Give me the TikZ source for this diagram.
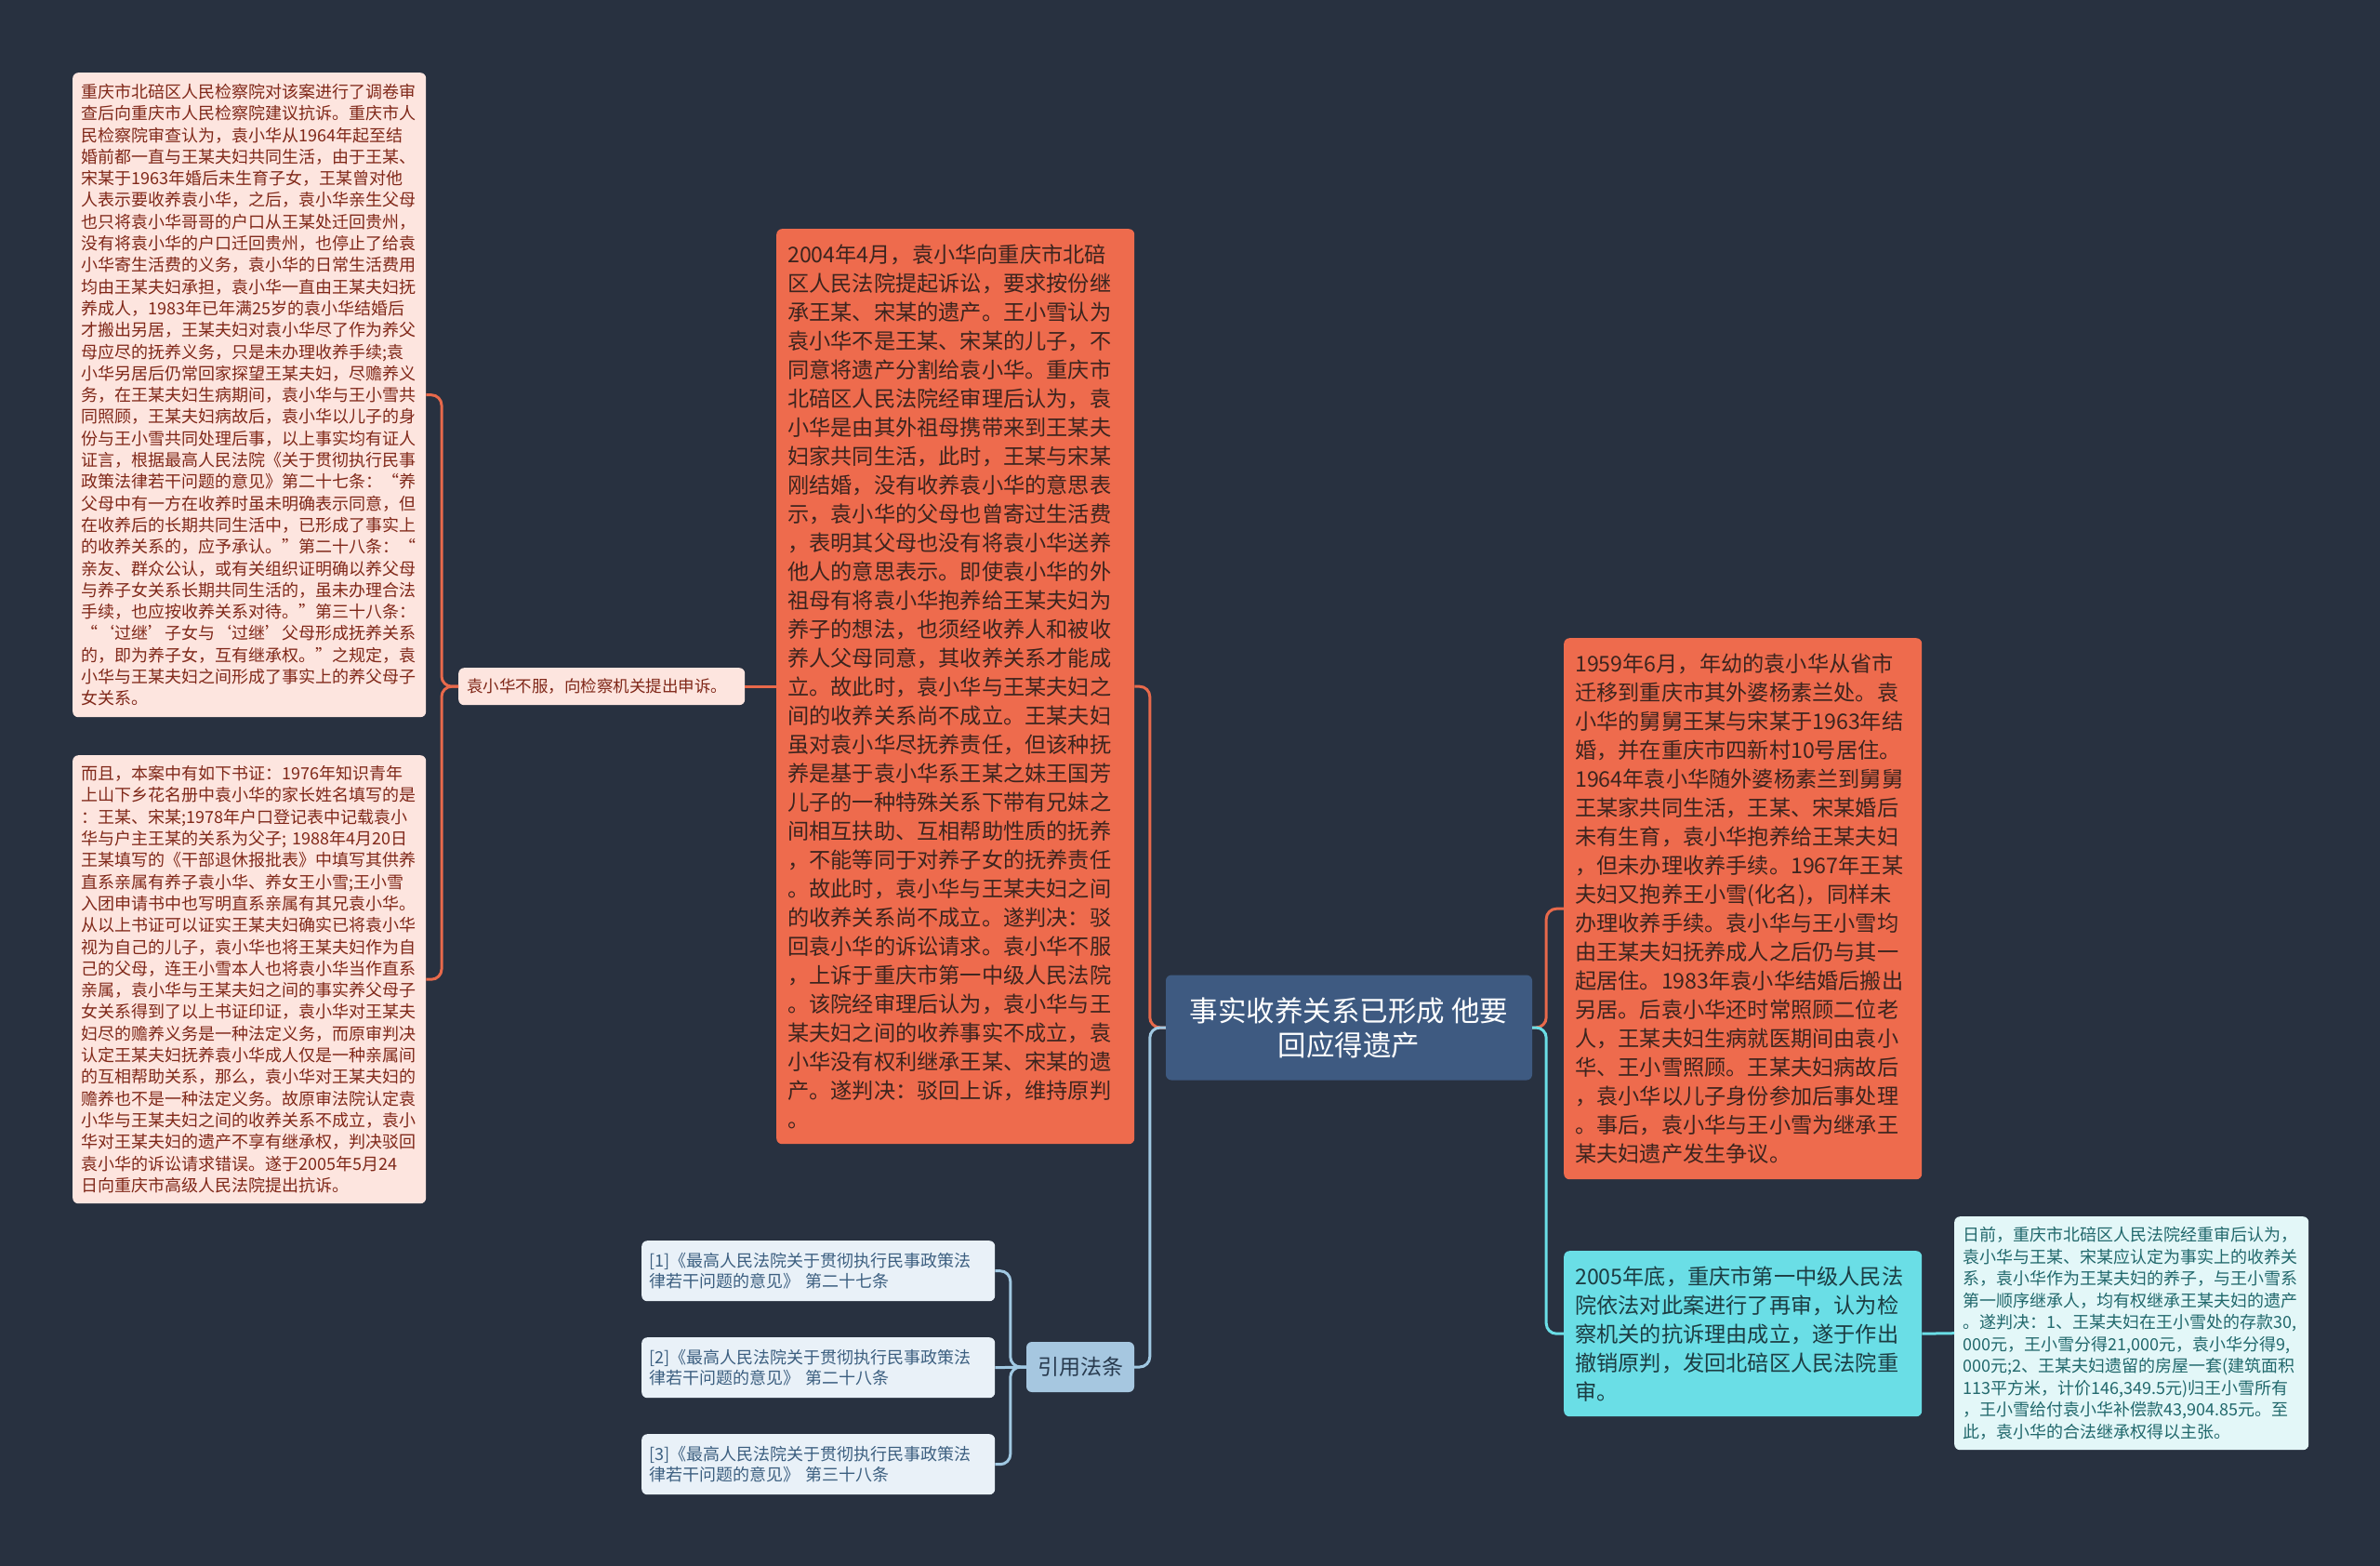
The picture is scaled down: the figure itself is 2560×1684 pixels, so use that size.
\documentclass[tikz,border=0pt]{standalone}
\usepackage{fontspec}
\setmainfont{Noto Sans CJK SC}
\definecolor{bgdark}{RGB}{40,49,64}
\definecolor{hubfill}{RGB}{62,90,129}
\definecolor{orangefill}{RGB}{238,107,77}
\definecolor{orangetext}{RGB}{60,36,30}
\definecolor{pinkfill}{RGB}{253,229,223}
\definecolor{pinktext}{RGB}{128,40,25}
\definecolor{lawfill}{RGB}{166,199,224}
\definecolor{lawtext}{RGB}{40,58,78}
\definecolor{citefill}{RGB}{233,241,248}
\definecolor{citetext}{RGB}{60,95,128}
\definecolor{cyanfill}{RGB}{106,222,230}
\definecolor{cyantext}{RGB}{28,60,66}
\definecolor{palefill}{RGB}{227,247,248}
\definecolor{paletext}{RGB}{33,104,108}
\definecolor{orangeline}{RGB}{232,105,75}
\definecolor{blueline}{RGB}{160,200,226}
\begin{document}
\begin{tikzpicture}[x=1pt,y=-1pt,
  note/.style={anchor=north west,rounded corners=6pt,align=left,inner ysep=0pt},
  pinknote/.style={note,fill=pinkfill,text=pinktext,inner xsep=9pt,text width=362pt,font=\fontsize{18}{23.3}\selectfont},
  orangenote/.style={note,fill=orangefill,text=orangetext,inner xsep=12pt,text width=361pt,font=\fontsize{23.2}{31}\selectfont},
  citenote/.style={note,fill=citefill,text=citetext,inner xsep=8pt,text width=364pt,minimum height=65pt,font=\fontsize{18}{22.5}\selectfont},
  link/.style={line width=3pt,rounded corners=11pt}]
\fill[bgdark] (0,0) rectangle (2560,1684);
\node[rounded corners=6pt,fill=hubfill,text=white,align=center,minimum width=394pt,minimum height=113pt,font=\fontsize{30.5}{37}\selectfont] (hub) at (1451,1105) {事实收养关系已形成 他要\\回应得遗产};
\node[orangenote,minimum height=984pt] (trial) at (835,246) {2004年4月，袁小华向重庆市北碚\\区人民法院提起诉讼，要求按份继\\承王某、宋某的遗产。王小雪认为\\袁小华不是王某、宋某的儿子，不\\同意将遗产分割给袁小华。重庆市\\北碚区人民法院经审理后认为，袁\\小华是由其外祖母携带来到王某夫\\妇家共同生活，此时，王某与宋某\\刚结婚，没有收养袁小华的意思表\\示，袁小华的父母也曾寄过生活费\\，表明其父母也没有将袁小华送养\\他人的意思表示。即使袁小华的外\\祖母有将袁小华抱养给王某夫妇为\\养子的想法，也须经收养人和被收\\养人父母同意，其收养关系才能成\\立。故此时，袁小华与王某夫妇之\\间的收养关系尚不成立。王某夫妇\\虽对袁小华尽抚养责任，但该种抚\\养是基于袁小华系王某之妹王国芳\\儿子的一种特殊关系下带有兄妹之\\间相互扶助、互相帮助性质的抚养\\，不能等同于对养子女的抚养责任\\。故此时，袁小华与王某夫妇之间\\的收养关系尚不成立。遂判决：驳\\回袁小华的诉讼请求。袁小华不服\\，上诉于重庆市第一中级人民法院\\。该院经审理后认为，袁小华与王\\某夫妇之间的收养事实不成立，袁\\小华没有权利继承王某、宋某的遗\\产。遂判决：驳回上诉，维持原判\\。};
\node[note,fill=pinkfill,text=pinktext,inner xsep=9pt,text width=290pt,minimum height=40pt,font=\fontsize{17.5}{22}\selectfont] (complain) at (493,718) {袁小华不服，向检察机关提出申诉。};
\node[pinknote,minimum height=693pt] (protest) at (78,78) {重庆市北碚区人民检察院对该案进行了调卷审\\查后向重庆市人民检察院建议抗诉。重庆市人\\民检察院审查认为，袁小华从1964年起至结\\婚前都一直与王某夫妇共同生活，由于王某、\\宋某于1963年婚后未生育子女，王某曾对他\\人表示要收养袁小华，之后，袁小华亲生父母\\也只将袁小华哥哥的户口从王某处迁回贵州，\\没有将袁小华的户口迁回贵州，也停止了给袁\\小华寄生活费的义务，袁小华的日常生活费用\\均由王某夫妇承担，袁小华一直由王某夫妇抚\\养成人，1983年已年满25岁的袁小华结婚后\\才搬出另居，王某夫妇对袁小华尽了作为养父\\母应尽的抚养义务，只是未办理收养手续;袁\\小华另居后仍常回家探望王某夫妇，尽赡养义\\务，在王某夫妇生病期间，袁小华与王小雪共\\同照顾，王某夫妇病故后，袁小华以儿子的身\\份与王小雪共同处理后事，以上事实均有证人\\证言，根据最高人民法院《关于贯彻执行民事\\政策法律若干问题的意见》第二十七条：“养\\父母中有一方在收养时虽未明确表示同意，但\\在收养后的长期共同生活中，已形成了事实上\\的收养关系的，应予承认。”第二十八条：“\\亲友、群众公认，或有关组织证明确以养父母\\与养子女关系长期共同生活的，虽未办理合法\\手续，也应按收养关系对待。”第三十八条：\\“‘过继’子女与‘过继’父母形成抚养关系\\的，即为养子女，互有继承权。”之规定，袁\\小华与王某夫妇之间形成了事实上的养父母子\\女关系。};
\node[pinknote,minimum height=482pt] (evidence) at (78,812) {而且，本案中有如下书证：1976年知识青年\\上山下乡花名册中袁小华的家长姓名填写的是\\：王某、宋某;1978年户口登记表中记载袁小\\华与户主王某的关系为父子; 1988年4月20日\\王某填写的《干部退休报批表》中填写其供养\\直系亲属有养子袁小华、养女王小雪;王小雪\\入团申请书中也写明直系亲属有其兄袁小华。\\从以上书证可以证实王某夫妇确实已将袁小华\\视为自己的儿子，袁小华也将王某夫妇作为自\\己的父母，连王小雪本人也将袁小华当作直系\\亲属，袁小华与王某夫妇之间的事实养父母子\\女关系得到了以上书证印证，袁小华对王某夫\\妇尽的赡养义务是一种法定义务，而原审判决\\认定王某夫妇抚养袁小华成人仅是一种亲属间\\的互相帮助关系，那么，袁小华对王某夫妇的\\赡养也不是一种法定义务。故原审法院认定袁\\小华与王某夫妇之间的收养关系不成立，袁小\\华对王某夫妇的遗产不享有继承权，判决驳回\\袁小华的诉讼请求错误。遂于2005年5月24\\日向重庆市高级人民法院提出抗诉。};
\node[rounded corners=6pt,fill=lawfill,text=lawtext,minimum width=116pt,minimum height=54pt,inner sep=0pt,font=\fontsize{23}{28}\selectfont] (lawhub) at (1162,1470) {引用法条};
\node[citenote] (cite1) at (690,1334) {[1]《最高人民法院关于贯彻执行民事政策法\\律若干问题的意见》 第二十七条};
\node[citenote] (cite2) at (690,1438) {[2]《最高人民法院关于贯彻执行民事政策法\\律若干问题的意见》 第二十八条};
\node[citenote] (cite3) at (690,1542) {[3]《最高人民法院关于贯彻执行民事政策法\\律若干问题的意见》 第三十八条};
\node[orangenote,minimum height=582pt] (facts) at (1682,686) {1959年6月，年幼的袁小华从省市\\迁移到重庆市其外婆杨素兰处。袁\\小华的舅舅王某与宋某于1963年结\\婚，并在重庆市四新村10号居住。\\1964年袁小华随外婆杨素兰到舅舅\\王某家共同生活，王某、宋某婚后\\未有生育，袁小华抱养给王某夫妇\\，但未办理收养手续。1967年王某\\夫妇又抱养王小雪(化名)，同样未\\办理收养手续。袁小华与王小雪均\\由王某夫妇抚养成人之后仍与其一\\起居住。1983年袁小华结婚后搬出\\另居。后袁小华还时常照顾二位老\\人，王某夫妇生病就医期间由袁小\\华、王小雪照顾。王某夫妇病故后\\，袁小华以儿子身份参加后事处理\\。事后，袁小华与王小雪为继承王\\某夫妇遗产发生争议。};
\node[orangenote,fill=cyanfill,text=cyantext,minimum height=178pt] (retrial) at (1682,1345) {2005年底，重庆市第一中级人民法\\院依法对此案进行了再审，认为检\\察机关的抗诉理由成立，遂于作出\\撤销原判，发回北碚区人民法院重\\审。};
\node[note,fill=palefill,text=paletext,inner xsep=9pt,text width=363pt,minimum height=251pt,font=\fontsize{18}{23.5}\selectfont] (verdict) at (2102,1308) {日前，重庆市北碚区人民法院经重审后认为，\\袁小华与王某、宋某应认定为事实上的收养关\\系，袁小华作为王某夫妇的养子，与王小雪系\\第一顺序继承人，均有权继承王某夫妇的遗产\\。遂判决：1、王某夫妇在王小雪处的存款30,\\000元，王小雪分得21,000元，袁小华分得9,\\000元;2、王某夫妇遗留的房屋一套(建筑面积\\113平方米，计价146,349.5元)归王小雪所有\\，王小雪给付袁小华补偿款43,904.85元。至\\此，袁小华的合法继承权得以主张。};
\draw[link,orangeline] (hub.west) -- ++(-17,0) |- (trial.east);
\draw[link,blueline] (hub.west) -- ++(-17,0) |- (lawhub.east);
\draw[link,orangeline] (hub.east) -- ++(15,0) |- (facts.west);
\draw[link,cyanfill] (hub.east) -- ++(15,0) |- (retrial.west);
\draw[link,cyanfill] (retrial.east) -- (verdict.west);
\draw[link,orangeline] (trial.west) -- (complain.east);
\draw[link,orangeline] (complain.west) -- ++(-18,0) |- (protest.east);
\draw[link,orangeline] (complain.west) -- ++(-18,0) |- (evidence.east);
\draw[link,blueline] (lawhub.west) -- ++(-17,0) |- (cite1.east);
\draw[link,blueline] (lawhub.west) -- (cite2.east);
\draw[link,blueline] (lawhub.west) -- ++(-17,0) |- (cite3.east);
\end{tikzpicture}
\end{document}
